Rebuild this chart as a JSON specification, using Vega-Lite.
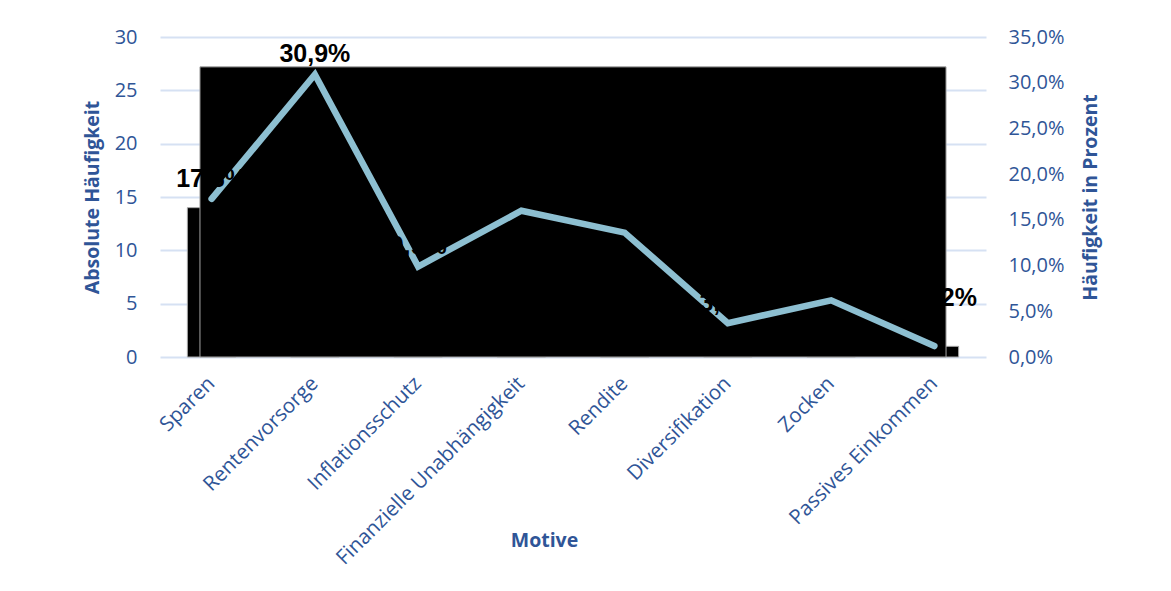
{
  "$schema": "https://vega.github.io/schema/vega-lite/v6.json",
  "autosize": {"type": "none"},
  "padding": {"left": 160, "top": 37, "right": 185, "bottom": 234},
  "width": 826,
  "height": 320,
  "background": "white",
  "config": {
    "locale": {"number": {"decimal": ",", "thousands": ".", "grouping": [3], "currency": ["", " €"]}},
    "view": {"stroke": null},
    "axis": {
      "labelFont": "Open Sans",
      "titleFont": "Open Sans",
      "labelColor": "#2F5597",
      "titleColor": "#2F5597",
      "labelFontSize": 20,
      "titleFontSize": 19.5,
      "titleFontWeight": "bold",
      "ticks": false,
      "domain": false
    }
  },
  "datasets": {
    "motive": [
      {"Motiv": "Sparen", "Anzahl": 14, "Anteil": 0.173},
      {"Motiv": "Rentenvorsorge", "Anzahl": 25, "Anteil": 0.309},
      {"Motiv": "Inflationsschutz", "Anzahl": 8, "Anteil": 0.099},
      {"Motiv": "Finanzielle Unabhängigkeit", "Anzahl": 13, "Anteil": 0.160},
      {"Motiv": "Rendite", "Anzahl": 11, "Anteil": 0.136},
      {"Motiv": "Diversifikation", "Anzahl": 3, "Anteil": 0.037},
      {"Motiv": "Zocken", "Anzahl": 5, "Anteil": 0.062},
      {"Motiv": "Passives Einkommen", "Anzahl": 1, "Anteil": 0.012}
    ],
    "block": [
      {"von": "Sparen", "bis": "Passives Einkommen", "hoehe": 27.2}
    ]
  },
  "encoding": {
    "x": {
      "field": "Motiv",
      "type": "nominal",
      "scale": {"domain": ["Sparen", "Rentenvorsorge", "Inflationsschutz", "Finanzielle Unabhängigkeit", "Rendite", "Diversifikation", "Zocken", "Passives Einkommen"], "paddingInner": 0, "paddingOuter": 0},
      "axis": {
        "title": "Motive",
        "labelAngle": -45,
        "labelAlign": "right",
        "labelBaseline": "middle",
        "labelPadding": 23,
        "labelLimit": 0,
        "labelFontSize": 20.5,
        "grid": false,
        "titleX": 384,
        "titleY": 183,
        "titleBaseline": "middle",
        "titleAnchor": "middle"
      }
    }
  },
  "layer": [
    {
      "encoding": {
        "y": {
          "field": "Anzahl",
          "type": "quantitative",
          "scale": {"domain": [0, 30], "nice": false},
          "axis": {
            "title": "Absolute Häufigkeit",
            "values": [0, 5, 10, 15, 20, 25, 30],
            "gridColor": "#D6E1F3",
            "gridWidth": 2,
            "labelPadding": 23,
            "titlePadding": 12
          }
        }
      },
      "layer": [
        {
          "data": {"name": "motive"},
          "mark": {"type": "bar", "color": "black", "stroke": "#A6A6A6", "strokeWidth": 1, "width": {"band": 0.47}},
          "encoding": {
            "y": {"field": "Anzahl", "type": "quantitative"}
          }
        },
        {
          "data": {"name": "block"},
          "mark": {"type": "rect", "color": "black", "stroke": "#A6A6A6", "strokeWidth": 1},
          "encoding": {
            "x": {"field": "von", "type": "nominal", "bandPosition": 0.387},
            "x2": {"field": "bis", "bandPosition": 0.613},
            "y": {"field": "hoehe", "type": "quantitative"},
            "y2": {"datum": 0}
          }
        }
      ]
    },
    {
      "data": {"name": "motive"},
      "encoding": {
        "y": {
          "field": "Anteil",
          "type": "quantitative",
          "scale": {"domain": [0, 0.35], "nice": false},
          "axis": {
            "orient": "right",
            "title": "Häufigkeit in Prozent",
            "format": ".1%",
            "values": [0, 0.05, 0.1, 0.15, 0.2, 0.25, 0.3, 0.35],
            "grid": false,
            "labelPadding": 22,
            "titlePadding": 36,
            "titleAngle": -90
          }
        }
      },
      "layer": [
        {
          "mark": {"type": "line", "color": "#8DBFD1", "strokeWidth": 6.5, "strokeCap": "round", "strokeJoin": "miter"},
          "encoding": {}
        },
        {
          "transform": [{"filter": "datum.Motiv !== 'Passives Einkommen'"}],
          "mark": {"type": "text", "font": "Liberation Sans", "fontWeight": "bold", "fontSize": 25, "color": "black", "dy": -20},
          "encoding": {
            "text": {"field": "Anteil", "type": "quantitative", "format": ".1%"}
          }
        },
        {
          "transform": [{"filter": "datum.Motiv === 'Passives Einkommen'"}],
          "mark": {"type": "text", "font": "Liberation Sans", "fontWeight": "bold", "fontSize": 25, "color": "black", "dy": -48, "dx": 14},
          "encoding": {
            "text": {"field": "Anteil", "type": "quantitative", "format": ".1%"}
          }
        }
      ]
    }
  ],
  "resolve": {"scale": {"y": "independent"}}
}
